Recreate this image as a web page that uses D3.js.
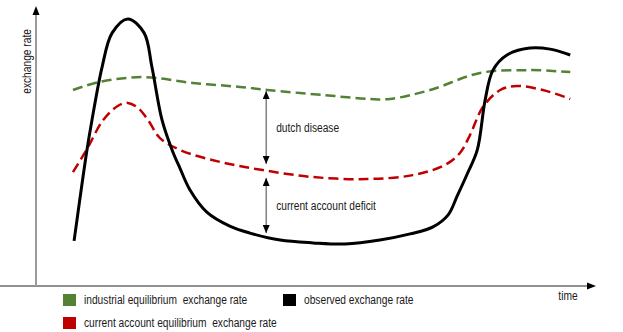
<!DOCTYPE html>
<html>
<head>
<meta charset="utf-8">
<script src="https://cdn.jsdelivr.net/npm/d3@7"></script>
<style>
  html, body { margin: 0; padding: 0; background: #fff; }
  svg { display: block; }
  text { fill: #1a1a1a; font-family: "Liberation Sans", Arial, sans-serif; font-size: 12px; }
</style>
</head>
<body>
<svg id="chart" width="623" height="332"></svg>
<script>
// ---- data (time, exchange rate) in arbitrary units 0..10 ----
const observed = [
  [0.68,1.61],[0.91,4.86],[1.00,5.93],[1.18,7.82],[1.36,9.04],[1.64,9.54],[1.93,9.04],
  [2.07,7.82],[2.25,5.93],[2.43,4.86],[2.57,4.21],[2.75,3.43],[3.05,2.64],[3.46,2.14],
  [3.82,1.89],[4.36,1.64],[4.95,1.54],[5.52,1.50],[6.14,1.64],[6.68,1.86],[7.09,2.11],
  [7.36,2.54],[7.52,3.21],[7.70,4.00],[7.88,4.86],[8.02,6.64],[8.16,7.71],[8.41,8.25],
  [8.82,8.50],[9.18,8.46],[9.54,8.25]
];
const industrial = [
  [0.66,7.00],[1.14,7.29],[1.91,7.46],[2.80,7.25],[3.64,7.11],[4.13,7.00],[5.13,6.82],
  [5.96,6.68],[6.32,6.68],[7.04,7.00],[7.93,7.61],[8.82,7.71],[9.54,7.64]
];
const currentAccount = [
  [0.66,4.07],[0.91,4.89],[1.20,5.93],[1.46,6.43],[1.64,6.54],[1.82,6.36],[2.00,5.93],
  [2.21,5.29],[2.57,4.86],[3.29,4.43],[4.05,4.14],[4.95,3.89],[5.91,3.82],[6.73,3.96],
  [7.30,4.32],[7.57,4.75],[7.75,5.39],[7.98,6.39],[8.29,7.00],[8.59,7.14],[9.05,7.00],[9.54,6.68]
];
// annotation gaps: time, from rate, to rate, label
const gaps = [
  {t: 4.11, from: 6.96, to: 4.36, label: "dutch disease"},
  {t: 4.11, from: 3.86, to: 1.89, label: "current account deficit"}
];
const legendItems = [
  {label: "industrial equilibrium  exchange rate", color: "#548235", col: 0, row: 0},
  {label: "observed exchange rate", color: "#000000", col: 1, row: 0},
  {label: "current account equilibrium  exchange rate", color: "#c00000", col: 0, row: 1}
];
const axisLabels = {y: "exchange rate", x: "time"};

// ---- drawing ----
const svg = d3.select("#chart");
const x = d3.scaleLinear().domain([0, 10]).range([36, 596]);
const y = d3.scaleLinear().domain([0, 10]).range([286, 6]);

const defs = svg.append("defs");
defs.append("marker").attr("id", "smallArrow")
  .attr("viewBox", "0 0 8 7").attr("refX", 8).attr("refY", 3.5)
  .attr("markerWidth", 8).attr("markerHeight", 7)
  .attr("markerUnits", "userSpaceOnUse").attr("orient", "auto-start-reverse")
  .append("path").attr("d", "M0,0L8,3.5L0,7Z").attr("fill", "#000");

// axes
svg.append("line").attr("x1", 0).attr("x2", x(10) - 8).attr("y1", y(0)).attr("y2", y(0))
  .attr("stroke", "#222").attr("stroke-width", 1);
svg.append("path").attr("d", `M${x(10) - 9},${y(0) - 3.5}L${x(10)},${y(0)}L${x(10) - 9},${y(0) + 3.5}Z`).attr("fill", "#000");
svg.append("line").attr("x1", x(0)).attr("x2", x(0)).attr("y1", y(0)).attr("y2", y(10) + 8)
  .attr("stroke", "#9a9a9a").attr("stroke-width", 2);
svg.append("path").attr("d", `M${x(0) - 3.5},${y(10) + 9}L${x(0)},${y(10)}L${x(0) + 3.5},${y(10) + 9}Z`).attr("fill", "#000");

svg.append("text").attr("transform", `translate(${x(0) - 5},${y(8.02)}) rotate(-90)`)
  .attr("text-anchor", "middle").text(axisLabels.y);
svg.append("text").attr("x", x(9.5)).attr("y", y(0)).attr("dy", "1.15em").attr("text-anchor", "middle").text(axisLabels.x);

// curves
const line = d3.line().x(d => x(d[0])).y(d => y(d[1])).curve(d3.curveCatmullRom.alpha(0.5));
svg.append("path").datum(industrial).attr("d", line).attr("fill", "none")
  .attr("stroke", "#548235").attr("stroke-width", 2.5).attr("stroke-dasharray", "10,5");
svg.append("path").datum(currentAccount).attr("d", line).attr("fill", "none")
  .attr("stroke", "#c00000").attr("stroke-width", 2.5).attr("stroke-dasharray", "10,5");
svg.append("path").datum(observed).attr("d", line).attr("fill", "none")
  .attr("stroke", "#000").attr("stroke-width", 3);

// annotations
gaps.forEach(g => {
  svg.append("line").attr("x1", x(g.t)).attr("x2", x(g.t)).attr("y1", y(g.from)).attr("y2", y(g.to))
    .attr("stroke", "#444").attr("stroke-width", 1)
    .attr("marker-start", "url(#smallArrow)").attr("marker-end", "url(#smallArrow)");
  svg.append("text").attr("x", x(g.t) + 10).attr("y", (y(g.from) + y(g.to)) / 2)
    .attr("dy", "0.35em").text(g.label);
});

// legend
const lg = svg.append("g");
legendItems.forEach(d => {
  const lx = 63 + d.col * 220, ly = 294 + d.row * 23;
  lg.append("rect").attr("x", lx).attr("y", ly).attr("width", 13).attr("height", 12).attr("fill", d.color);
  lg.append("text").attr("x", lx + 21).attr("y", ly + 6).attr("dy", "0.35em")
    .style("white-space", "pre").text(d.label);
});

// condense all text horizontally to mimic the original narrow face
svg.selectAll("text").each(function () {
  const len = this.getComputedTextLength();
  d3.select(this).attr("textLength", (len * 0.85).toFixed(1)).attr("lengthAdjust", "spacingAndGlyphs");
});
</script>
</body>
</html>
